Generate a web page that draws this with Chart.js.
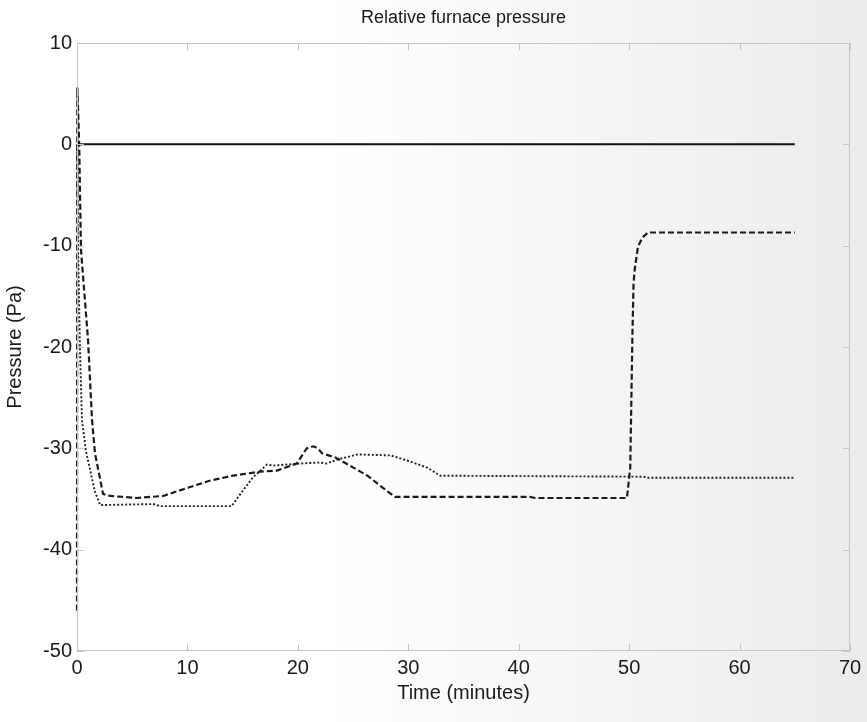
<!DOCTYPE html>
<html lang="en">
<head>
<meta charset="UTF-8">
<title>Relative furnace pressure</title>
<script src="https://cdn.jsdelivr.net/npm/chart.js@4.4.1/dist/chart.umd.min.js"></script>
<style>
html,body{margin:0;padding:0}
body{width:867px;height:722px;overflow:hidden;background:linear-gradient(90deg,#ffffff 0%,#ffffff 38%,#f4f4f4 72%,#ebebeb 100%)}
#wrap{position:relative;width:867px;height:722px}
</style>
</head>
<body>
<div id="wrap"><canvas id="c" width="867" height="722"></canvas></div>
<script>
// setpoint (solid)
const timeSet=[0,65];
const pressSet=[0,0];

// controller A (dashed)
const timeA=[0,0.03,0.2,0.36,1.0,1.36,1.63,2.36,3.0,5.4,7.8,10.0,12.0,14.1,16.6,18.1,19.9,20.8,21.4,21.8,22.2,23.4,24.7,26.3,27.7,28.8,41.0,41.5,49.8,50.1,50.3,50.4,50.5,50.8,51.2,51.7,65];
const pressA=[-46,5.6,0,-10.4,-19.3,-27.2,-30.5,-34.5,-34.7,-34.9,-34.7,-33.9,-33.2,-32.7,-32.3,-32.2,-31.5,-30.0,-29.8,-30.0,-30.5,-30.9,-31.7,-32.7,-33.9,-34.8,-34.8,-34.9,-34.9,-31.9,-18.6,-13.7,-12.4,-10.1,-9.2,-8.7,-8.7];

// controller B (dotted)
const timeB=[0,0.1,0.27,0.45,0.8,1.2,1.6,2.1,6.9,7.5,14.0,14.8,15.9,17.2,17.8,20.2,22.0,22.6,23.6,25.4,28.4,29.9,31.7,32.9,51.3,51.7,65];
const pressB=[0,-10.4,-20.3,-27.2,-30.2,-32.2,-34.2,-35.6,-35.5,-35.7,-35.7,-34.5,-32.9,-31.6,-31.7,-31.5,-31.4,-31.5,-31.1,-30.6,-30.7,-31.2,-31.9,-32.7,-32.8,-32.9,-32.9];

const xTicks=[0,10,20,30,40,50,60,70];
const yTicks=[-50,-40,-30,-20,-10,0,10];

const pts=(t,p)=>t.map((x,i)=>({x,y:p[i]}));
const FONT='"Liberation Sans", Arial, sans-serif';

// inward tick marks on all four sides + light box
const innerTicks={
  id:'innerTicks',
  afterDatasetsDraw(chart){
    const {ctx,chartArea:a,scales:{x,y}}=chart;
    const len=7;
    ctx.save();
    ctx.strokeStyle='#c4c4c4';
    ctx.lineWidth=1;
    ctx.strokeRect(a.left+0.5,a.top+0.5,a.right-a.left-1,a.bottom-a.top-1);
    ctx.beginPath();
    xTicks.forEach(v=>{
      const px=Math.round(x.getPixelForValue(v))+0.5;
      ctx.moveTo(px,a.bottom);ctx.lineTo(px,a.bottom-len);
      ctx.moveTo(px,a.top);ctx.lineTo(px,a.top+len);
    });
    yTicks.forEach(v=>{
      const py=Math.round(y.getPixelForValue(v))+0.5;
      ctx.moveTo(a.left,py);ctx.lineTo(a.left+len,py);
      ctx.moveTo(a.right,py);ctx.lineTo(a.right-len,py);
    });
    ctx.stroke();
    ctx.restore();
  }
};

new Chart(document.getElementById('c'),{
  type:'scatter',
  data:{datasets:[
    {label:'Setpoint',data:pts(timeSet,pressSet),showLine:true,clip:false,borderColor:'#111',borderWidth:2,pointRadius:0,tension:0},
    {label:'A',data:pts(timeA,pressA),showLine:true,clip:false,borderColor:'#1a1a1a',borderWidth:2.2,borderDash:[6,3],pointRadius:0,tension:0},
    {label:'B',data:pts(timeB,pressB),showLine:true,clip:false,borderColor:'#222',borderWidth:1.9,borderDash:[2,2],pointRadius:0,tension:0}
  ]},
  options:{
    responsive:false,
    animation:false,
    devicePixelRatio:1,
    layout:{padding:{left:0,right:17,top:0,bottom:0}},
    plugins:{
      legend:{display:false},
      tooltip:{enabled:false},
      title:{display:true,text:'Relative furnace pressure',fullSize:false,color:'#1a1a1a',
        font:{family:FONT,size:18,weight:'normal'},padding:{top:7,bottom:14.4}}
    },
    scales:{
      x:{type:'linear',min:0,max:70,
        afterBuildTicks:s=>{s.ticks=xTicks.map(v=>({value:v}));},
        afterFit:s=>{s.height=71;},
        grid:{display:false,drawTicks:false},border:{display:false},
        ticks:{color:'#1a1a1a',font:{family:FONT,size:20},padding:5,maxRotation:0},
        title:{display:true,text:'Time (minutes)',color:'#1a1a1a',font:{family:FONT,size:20},padding:{top:0,bottom:17}}
      },
      y:{type:'linear',min:-50,max:10,
        afterBuildTicks:s=>{s.ticks=yTicks.map(v=>({value:v}));},
        afterFit:s=>{s.width=77;},
        grid:{display:false,drawTicks:false},border:{display:false},
        ticks:{color:'#1a1a1a',font:{family:FONT,size:20},padding:5},
        title:{display:true,text:'Pressure (Pa)',color:'#1a1a1a',font:{family:FONT,size:20},padding:{top:3,bottom:0}}
      }
    }
  },
  plugins:[innerTicks]
});
</script>
</body>
</html>
